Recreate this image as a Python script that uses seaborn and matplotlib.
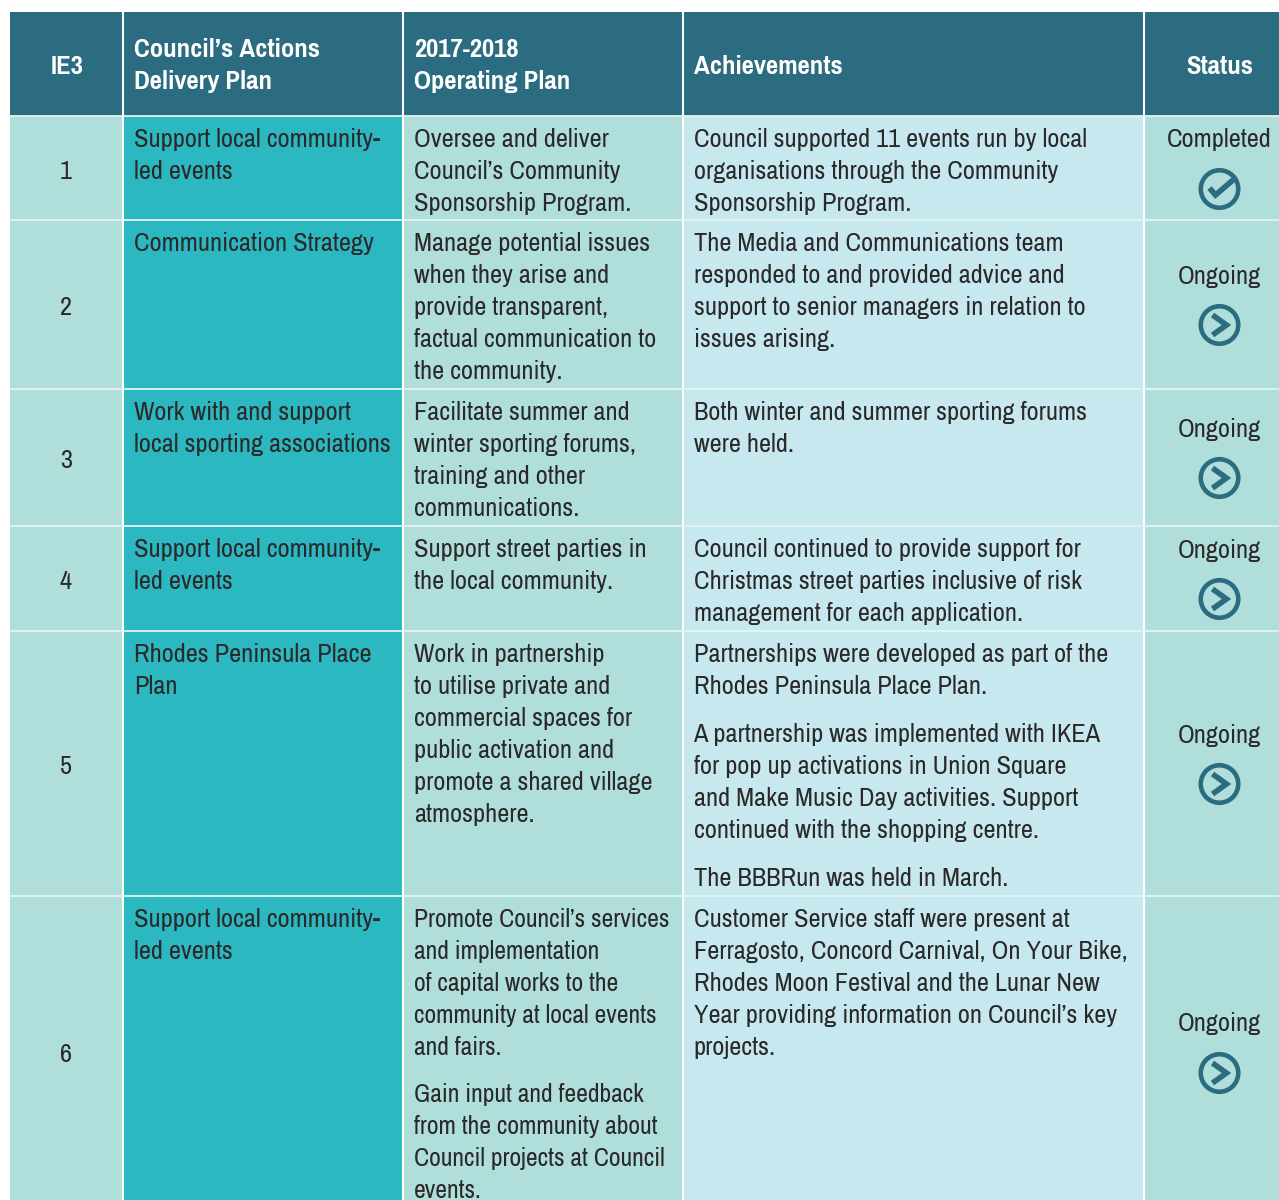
import numpy as np
import matplotlib
matplotlib.use("Agg")
import matplotlib.pyplot as plt
from matplotlib import font_manager as fm
from matplotlib.colors import ListedColormap
import seaborn as sns

# table contents
row_numbers = ["1", "2", "3", "4", "5", "6"]
status_labels = ["Completed", "Ongoing", "Ongoing", "Ongoing", "Ongoing", "Ongoing"]

header_single = [("IE3", 67, 74, "center"), ("Achievements", 693.5, 74, "left"), ("Status", 1219.5, 74, "center")]
header_double = [(134, 57, ["Council’s Actions", "Delivery Plan"]), (414, 57, ["2017-2018", "Operating Plan"])]

actions = [
    (147, ["Support local community-", "led events"]),
    (251, ["Communication Strategy"]),
    (420, ["Work with and support", "local sporting associations"]),
    (557, ["Support local community-", "led events"]),
    (662, ["Rhodes Peninsula Place", "Plan"]),
    (927, ["Support local community-", "led events"]),
]
operating = [
    (147, ["Oversee and deliver", "Council’s Community", "Sponsorship Program."]),
    (251, ["Manage potential issues", "when they arise and", "provide transparent,",
           "factual communication to", "the community."]),
    (420, ["Facilitate summer and", "winter sporting forums,", "training and other", "communications."]),
    (557, ["Support street parties in", "the local community."]),
    (662, ["Work in partnership", "to utilise private and", "commercial spaces for",
           "public activation and", "promote a shared village", "atmosphere."]),
    (927, ["Promote Council’s services", "and implementation", "of capital works to the",
           "community at local events", "and fairs."]),
    (1102, ["Gain input and feedback", "from the community about", "Council projects at Council", "events."]),
]
achievements = [
    (147, ["Council supported 11 events run by local", "organisations through the Community",
           "Sponsorship Program."]),
    (251, ["The Media and Communications team", "responded to and provided advice and",
           "support to senior managers in relation to", "issues arising."]),
    (420, ["Both winter and summer sporting forums", "were held."]),
    (557, ["Council continued to provide support for", "Christmas street parties inclusive of risk",
           "management for each application."]),
    (662, ["Partnerships were developed as part of the", "Rhodes Peninsula Place Plan."]),
    (742, ["A partnership was implemented with IKEA", "for pop up activations in Union Square",
           "and Make Music Day activities. Support", "continued with the shopping centre."]),
    (886, ["The BBBRun was held in March."]),
    (927, ["Customer Service staff were present at", "Ferragosto, Concord Carnival, On Your Bike,",
           "Rhodes Moon Festival and the Lunar New", "Year providing information on Council’s key",
           "projects."]),
]

# layout in pixels
col_widths = [10, 113, 280, 280, 461, 135]
row_heights = [12, 104, 104, 169, 137, 105, 265, 304]
number_y = [179, 315, 468, 589, 774, 1062]
status_y = [147, 284, 437, 558, 743, 1031]
icon_y = [189, 325, 478, 599, 784, 1073]

palette = ["#FFFFFF", "#2B6C80", "#B0DFDB", "#2CB8C1", "#C7E8EF"]
text_col = "#2A2829"
icon_col = "#2B6C80"
line_h = 32

# colour codes, one row per table band
blank = [0] * 6
head = [0, 1, 1, 1, 1, 1]
body = [0, 2, 3, 2, 4, 2]
codes = np.array([blank, head] + [body] * 6)
grid = np.repeat(np.repeat(codes, row_heights, axis=0), col_widths, axis=1)

# narrow faces if they are there, otherwise a smaller Liberation Sans
try:
    fm.findfont("Archivo Narrow", fallback_to_default=False)
    fm.findfont("Pragati Narrow", fallback_to_default=False)
    body_family = ["Archivo Narrow", "Liberation Sans"]
    head_family = ["Pragati Narrow", "Liberation Sans"]
    font_size, head_size = 19.0, 20.9
except ValueError:
    body_family = head_family = ["Liberation Sans", "DejaVu Sans"]
    font_size, head_size = 15.8, 15.8

fig = plt.figure(figsize=(12.79, 12.0), dpi=100)
ax = fig.add_axes([0, 0, 1, 1])
sns.heatmap(grid, cmap=ListedColormap(palette), vmin=-0.5, vmax=4.5, cbar=False,
            xticklabels=False, yticklabels=False, ax=ax)
ax.axis("off")

col_edges = np.cumsum(col_widths)[:-1]
row_edges = np.cumsum(row_heights)
ax.vlines(col_edges[1:], 12, 1200, color="white", lw=1.5)
ax.hlines(row_edges[1:-1], 10, 1279, color="#E4F4F4", lw=1.3)


def draw_block(x, y, lines, **kw):
    for i, line in enumerate(lines):
        ax.text(x, y + i * line_h, line, va="baseline", **kw)


body_font = dict(family=body_family, color=text_col)
head_font = dict(family=head_family, fontsize=head_size, color="white", fontweight="bold")

for label, x, y, ha in header_single:
    ax.text(x, y, label, ha=ha, va="baseline", **head_font)
for x, y, lines in header_double:
    draw_block(x, y, lines, **head_font)

for x, column in [(134, actions), (414, operating), (693.5, achievements)]:
    for y, lines in column:
        # the last operating-plan cell is set a touch tighter in the original
        size = font_size * 0.97 if x == 414 and y > 900 else font_size
        draw_block(x, y, lines, fontsize=size, **body_font)

for label, y in zip(row_numbers, number_y):
    ax.text(66, y, label, ha="center", va="baseline", fontsize=font_size, **body_font)

for label, y_text, y_icon in zip(status_labels, status_y, icon_y):
    ax.text(1219.5, y_text, label, ha="center", va="baseline", fontsize=font_size, **body_font)
    ax.scatter([1219.5], [y_icon], s=729, marker="o", facecolor="none", edgecolor=icon_col, lw=3.3, zorder=3)
    if label == "Completed":
        dx, dy = [-10, -4, 17], [-1, 6, -12]
    else:
        dx, dy = [-7, 7, -7], [-10, 0, 10]
    ax.plot(1219.5 + np.array(dx), y_icon + np.array(dy), color=icon_col, lw=4.0,
            solid_joinstyle="miter", solid_capstyle="butt", zorder=4)

fig.savefig("out.png", dpi=100)
